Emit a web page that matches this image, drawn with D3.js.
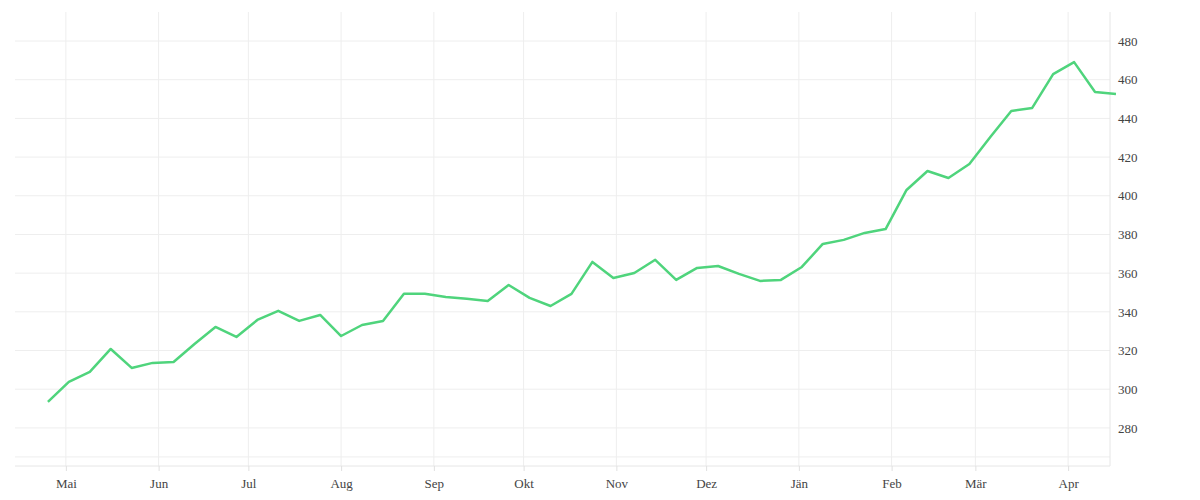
<!DOCTYPE html>
<html><head><meta charset="utf-8">
<script src="https://cdn.jsdelivr.net/npm/d3@7"></script>
<style>body{margin:0;background:#fff}svg text{font-family:"Liberation Serif",serif;font-size:13px;fill:#444}</style>
</head><body><svg id="c" width="1200" height="500"></svg>
<script>
const startDate = "2022-04-25";
const values = [293.4,303.8,309,320.8,311,313.6,314.1,323.4,332.2,327,335.8,340.5,335.3,338.4,327.5,333.2,335.3,349.3,349.3,347.7,346.7,345.6,353.9,347.2,343,349.3,365.8,357.5,360.1,366.9,356.5,362.7,363.7,359.6,356,356.5,363.2,375.1,377.2,380.8,382.8,403,412.8,409.2,416.4,430.4,443.8,445.4,462.9,469.1,453.6,452.6];
const monthLabels = ["Mai","Jun","Jul","Aug","Sep","Okt","Nov","Dez","Jän","Feb","Mär","Apr"];
const yTicks = [280,300,320,340,360,380,400,420,440,460,480];

const svg = d3.select("#c");
const L=15,R=1110,T=12,B=466;
const s0 = new Date(2022,3,25);
const dates = values.map((v,i)=>d3.timeDay.offset(s0,7*i));
const x = d3.scaleTime().domain([new Date(2022,3,14),new Date(2023,3,15)]).range([L,R]);
const y = d3.scaleLinear().domain([260.3,495]).range([B,T]);
const months = d3.range(12).map(i=>new Date(2022,4+i,1));

const g = svg.append("g");
g.selectAll(".vg").data(months).join("line").attr("x1",d=>x(d)).attr("x2",d=>x(d)).attr("y1",T).attr("y2",B).attr("stroke","#eeeeee");
g.selectAll(".hg").data(yTicks.concat([265])).join("line").attr("x1",L).attr("x2",R).attr("y1",d=>y(d)).attr("y2",d=>y(d)).attr("stroke","#eeeeee");
g.append("line").attr("x1",R).attr("x2",R).attr("y1",T).attr("y2",B).attr("stroke","#e6e6e6");
g.append("line").attr("x1",L).attr("x2",R).attr("y1",B).attr("y2",B).attr("stroke","#e6e6e6");

const xa = svg.append("g").attr("transform",`translate(0,${B})`)
 .call(d3.axisBottom(x).tickValues(months).tickFormat((d,i)=>monthLabels[i]).tickSize(5).tickPadding(8));
xa.select(".domain").remove(); xa.selectAll("line").attr("stroke","#e0e0e0");
const ya = svg.append("g").attr("transform",`translate(${R},0)`)
 .call(d3.axisRight(y).tickValues(yTicks).tickSize(0).tickPadding(8));
ya.select(".domain").remove();
svg.selectAll(".tick text").style("font-family","Liberation Serif").style("font-size","13px").attr("fill","#444");

svg.append("path").datum(values).attr("fill","none").attr("stroke","#4fd47c").attr("stroke-width",2.5)
 .attr("stroke-linejoin","round")
 .attr("d",d3.line().x((d,i)=>x(dates[i])).y(d=>y(d)));
</script></body></html>
